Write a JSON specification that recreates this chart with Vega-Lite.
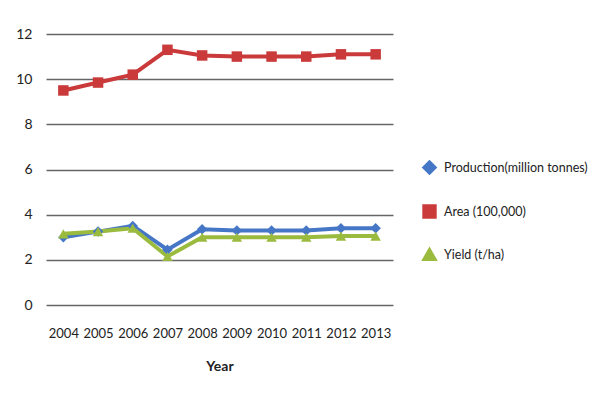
{
  "$schema": "https://vega.github.io/schema/vega-lite/v6.json",
  "autosize": {"type": "none"},
  "width": 347,
  "height": 271,
  "padding": {"left": 46, "top": 34, "right": 200, "bottom": 96},
  "background": "white",
  "config": {
    "font": "Lato",
    "view": {"stroke": null},
    "axis": {"labelFont": "Lato", "titleFont": "Lato", "labelColor": "#222", "titleColor": "#222"},
    "legend": {"labelFont": "Lato"}
  },
  "data": {
    "values": [
      {"Year": "2004", "series": "Production(million tonnes)", "value": 3.0},
      {"Year": "2005", "series": "Production(million tonnes)", "value": 3.25},
      {"Year": "2006", "series": "Production(million tonnes)", "value": 3.5},
      {"Year": "2007", "series": "Production(million tonnes)", "value": 2.45},
      {"Year": "2008", "series": "Production(million tonnes)", "value": 3.35},
      {"Year": "2009", "series": "Production(million tonnes)", "value": 3.3},
      {"Year": "2010", "series": "Production(million tonnes)", "value": 3.3},
      {"Year": "2011", "series": "Production(million tonnes)", "value": 3.3},
      {"Year": "2012", "series": "Production(million tonnes)", "value": 3.4},
      {"Year": "2013", "series": "Production(million tonnes)", "value": 3.4},
      {"Year": "2004", "series": "Area (100,000)", "value": 9.5},
      {"Year": "2005", "series": "Area (100,000)", "value": 9.85},
      {"Year": "2006", "series": "Area (100,000)", "value": 10.2},
      {"Year": "2007", "series": "Area (100,000)", "value": 11.3},
      {"Year": "2008", "series": "Area (100,000)", "value": 11.05},
      {"Year": "2009", "series": "Area (100,000)", "value": 11.0},
      {"Year": "2010", "series": "Area (100,000)", "value": 11.0},
      {"Year": "2011", "series": "Area (100,000)", "value": 11.0},
      {"Year": "2012", "series": "Area (100,000)", "value": 11.1},
      {"Year": "2013", "series": "Area (100,000)", "value": 11.1},
      {"Year": "2004", "series": "Yield (t/ha)", "value": 3.15},
      {"Year": "2005", "series": "Yield (t/ha)", "value": 3.25},
      {"Year": "2006", "series": "Yield (t/ha)", "value": 3.4},
      {"Year": "2007", "series": "Yield (t/ha)", "value": 2.15},
      {"Year": "2008", "series": "Yield (t/ha)", "value": 3.0},
      {"Year": "2009", "series": "Yield (t/ha)", "value": 3.0},
      {"Year": "2010", "series": "Yield (t/ha)", "value": 3.0},
      {"Year": "2011", "series": "Yield (t/ha)", "value": 3.0},
      {"Year": "2012", "series": "Yield (t/ha)", "value": 3.05},
      {"Year": "2013", "series": "Yield (t/ha)", "value": 3.05}
    ]
  },
  "encoding": {
    "x": {
      "field": "Year", "type": "ordinal",
      "scale": {"paddingInner": 0, "paddingOuter": 0},
      "axis": {"labelAngle": 0, "labelFontSize": 13, "labelPadding": 22, "ticks": false, "domain": false, "title": "Year", "titleFontSize": 14, "titleFontWeight": "bold", "titlePadding": 19}
    },
    "y": {
      "field": "value", "type": "quantitative",
      "scale": {"domain": [0, 12]},
      "axis": {"values": [0, 2, 4, 6, 8, 10, 12], "labelFontSize": 14, "labelPadding": 14, "ticks": false, "domain": false, "title": null, "gridColor": "#666", "gridWidth": 1.5}
    },
    "color": {
      "field": "series", "type": "nominal",
      "sort": ["Production(million tonnes)", "Area (100,000)", "Yield (t/ha)"],
      "scale": {"domain": ["Production(million tonnes)", "Area (100,000)", "Yield (t/ha)"], "range": ["#4677C6", "#CB3A3A", "#9BBB3F"]},
      "legend": {"title": null, "orient": "none", "legendX": 376, "legendY": 126, "labelFontSize": 12.5, "rowPadding": 19, "symbolSize": 130, "symbolStrokeWidth": 3, "labelLimit": 250, "labelColor": "#222", "labelOffset": 7}
    }
  },
  "layer": [
    {"mark": {"type": "line", "strokeWidth": 4}},
    {
      "mark": {"type": "point", "filled": true, "size": 110, "opacity": 1},
      "encoding": {
        "shape": {
          "field": "series", "type": "nominal",
          "sort": ["Production(million tonnes)", "Area (100,000)", "Yield (t/ha)"],
          "scale": {"domain": ["Production(million tonnes)", "Area (100,000)", "Yield (t/ha)"], "range": ["diamond", "square", "triangle-up"]},
          "legend": null
        }
      }
    }
  ]
}
